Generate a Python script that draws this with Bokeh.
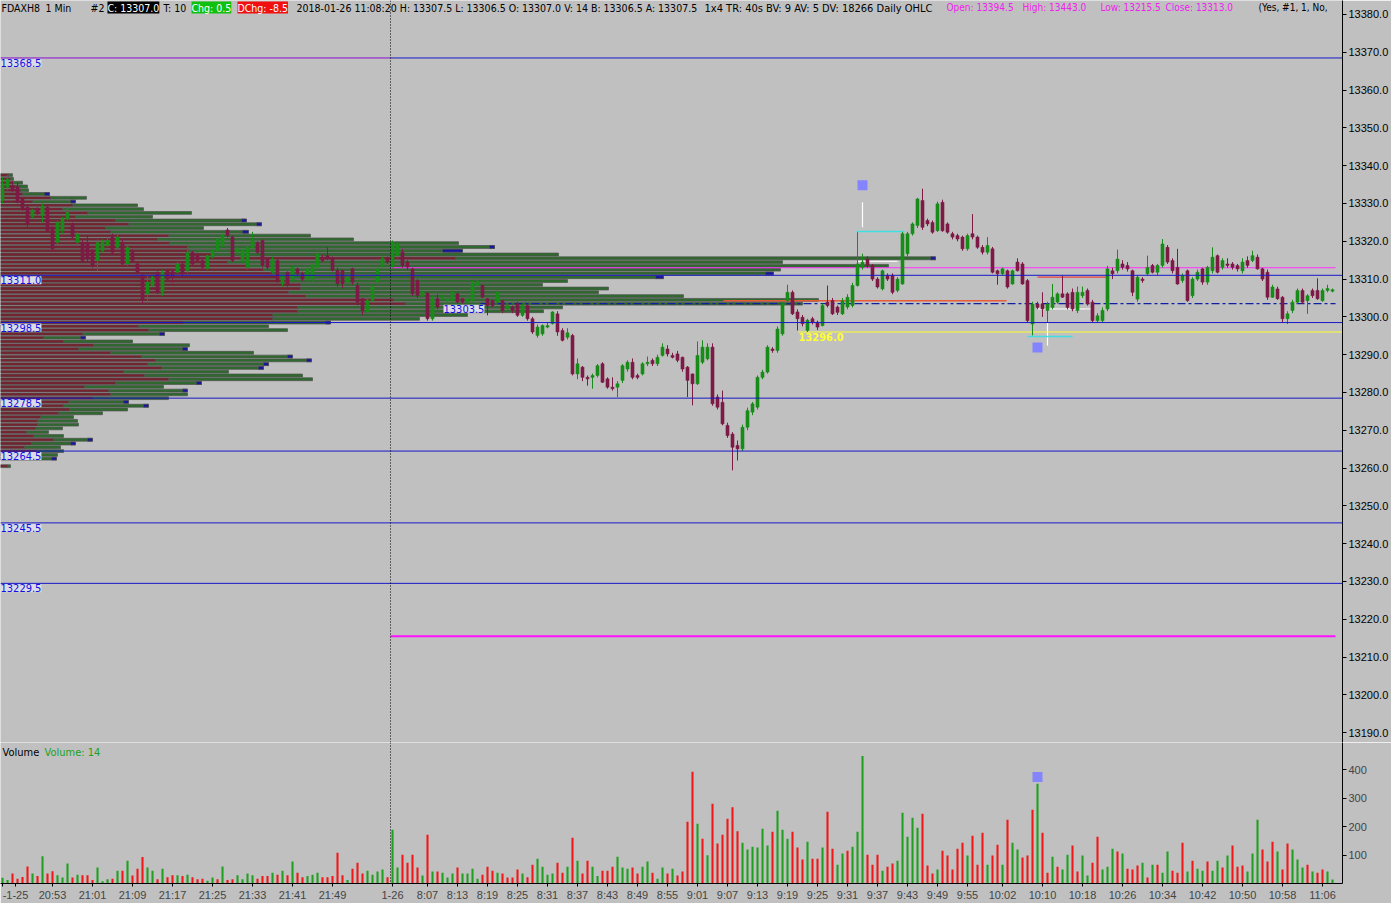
from bokeh.plotting import figure
from bokeh.models import Range1d, FixedTicker, PrintfTickFormatter, Label, Span, ColumnDataSource
from bokeh.layouts import column
from bokeh.embed import file_html
from bokeh.resources import INLINE

FONT = "Liberation Sans Narrow, DejaVu Sans Condensed, sans-serif"
AXFONT = "Liberation Sans, Arial, sans-serif"
BG = "#C0C0C0"

# ---------------- data ----------------
opens = [13330.8,13334.3,13334.7,13334.5,13331.2,13329,13326.5,13328.6,13326.8,13329,
 13323.7,13319.7,13322.8,13325.9,13324.6,13319.7,13319.7,13319.7,13317.5,13314.9,
 13317.5,13318.9,13321.1,13318.4,13319.7,13314,13317.1,13314,13310.9,13306.1,
 13308.3,13311.8,13306.5,13312.2,13312,13311.8,13314,13312.2,13317.1,13316.2,
 13314.9,13312.7,13315.8,13317.5,13318.9,13323,13321.1,13317.1,13314.9,13313.1,
 13318.4,13319.7,13320.2,13315.3,13311.8,13314.9,13308.7,13311.8,13310,13312.7,
 13311.4,13310,13310,13313.1,13315.8,13316.2,13315.4,13312.3,13312.3,13309.2,
 13312.7,13308.3,13304.8,13301.3,13304.4,13309.2,13313.6,13315.4,
 13313.6,13316.2,13317.1,13314.5,13312.7,13309.6,13305.7,13306.3,13299.5,13304.8,
 13304.9,13304.2,13304.3,13306.1,13304.8,13303.9,13304.3,13308.3,13308.3,13304.8,
 13304.3,13303.9,13304.3,13302.1,13302.6,13303.5,13300.4,13303,13299.5,13295.1,
 13295.5,13297.3,13298.2,13300.8,13296.4,13294.6,13295.1,13284.9,13286.7,13284,
 13284,13284.5,13287.6,13283.6,13281.4,13281.4,13283.2,13286.2,13288,13284.5,
 13284.9,13287.6,13288.5,13287.6,13289.8,13291.5,13289.8,13290.2,13289.3,13286.7,
 13284.9,13282.3,13288,13288.9,13292,13278.8,13277.4,13271.3,13269,13266,
 13265.1,13270.8,13274.8,13276.1,13284,13285.4,13291.5,13291.1,13295.5,13304.3,
 13306.5,13301.3,13299.9,13296.4,13299.5,13298.6,13297.7,13303.9,13304.3,13302.6,
 13300.8,13302.6,13303,13308.3,13313.1,13315.3,13313.6,13310,13307.4,13311,
 13311,13307,13308.7,13316.7,13322,13324.2,13330.8,13325.5,13325,13322.8,
 13330.3,13324.6,13322,13321.5,13321.1,13318,13322,13321.1,13318.4,13317.1,
 13318,13312.2,13311.4,13312.2,13308.7,13314.5,13314,13309.6,13298.1,13303.4,
 13303.4,13301.7,13302.5,13303.9,13306.1,13306.1,13306.5,13301.7,13305.6,13307,
 13303.9,13299,13299,13302.1,13312.2,13312.2,13314,13313.6,13312.2,13304.7,
 13310,13311.4,13313.6,13311.8,13313.6,13318.4,13314.9,13313.1,13309.6,13312.2,
 13305.6,13310,13312.7,13309.2,13312.2,13316.2,13313.1,13314,13314,13313.6,
 13312.2,13314.9,13314.9,13315.8,13312.7,13311.8,13305.2,13307.4,13305.2,13299.5,
 13301.7,13303.9,13307,13304.3,13307,13307,13304.3,13307,13307]
highs = [13337,13337.5,13336,13335.5,13331.5,13329.5,13328.5,13329,13330,13329.5,
 13324,13325.5,13326.5,13329,13325,13322.5,13320.5,13321.5,13318,13320.5,
 13320.5,13321,13322,13322,13320.5,13319,13318,13314.5,13311.5,13311,
 13311,13312,13312.5,13312.5,13312.5,13314.5,13314.5,13318.5,13317.5,13317,
 13315.5,13316.5,13318,13321,13322,13323.5,13321.5,13318.5,13318,13319,
 13322.5,13320,13320.5,13315.5,13316,13315.5,13311,13312,13313.5,13313,
 13312,13313,13314,13317.5,13316.5,13318.4,13316,13313,13312.5,13311,
 13313,13309,13305,13305,13308.5,13313,13316,13316,
 13320.2,13320,13318,13315,13313,13310,13307,13306.5,13305.5,13306,
 13306,13305,13307,13306.5,13305,13305.5,13309.5,13310,13308.5,13305,
 13304.5,13307,13304.5,13303.5,13303,13304,13303.5,13303.5,13300,13298,
 13298,13298.5,13301.5,13301.5,13297,13297,13295.5,13289,13287,13284.5,
 13285,13287.5,13288,13284,13284,13283,13287.5,13288.5,13289,13285,
 13288,13289.5,13289,13290,13293,13292.5,13290.5,13291,13289.5,13287,
 13285,13293.5,13293.8,13293,13293,13279.5,13280.5,13272,13269.5,13267.3,
 13271.5,13276,13277.5,13284.5,13286,13292.5,13292,13297.5,13304,13308.5,
 13307,13302,13300.5,13299.5,13300,13299,13303.5,13308.3,13305,13303,
 13305,13306,13309,13322.4,13316.7,13316,13314,13310.5,13312.5,13311.5,
 13311.5,13310.5,13322.5,13322.5,13325,13331.5,13333.9,13326,13325.5,13330.5,
 13331,13325,13322.5,13322,13321.5,13322,13327.2,13321.5,13319,13321.1,
 13318.5,13312.5,13313,13312.5,13312.5,13315.5,13314.5,13310,13304,13304,
 13306.5,13304,13308.7,13306.5,13310.9,13306.5,13307.5,13308,13308,13307.5,
 13304.5,13301,13302.5,13313.5,13313,13317.8,13315,13314.5,13312.5,13311,
 13310.5,13316.2,13314,13314,13320.6,13319,13315.5,13318,13311.5,13312.5,
 13310.5,13312.5,13313,13313.5,13318.4,13316.5,13315.5,13315.5,13314.5,13314,
 13315.5,13316,13317.5,13316.5,13313,13312.5,13308.5,13308,13305.5,13301.5,
 13304.5,13307.5,13307.5,13306,13307.5,13310.2,13307.5,13308.5,13307.5]
lows = [13330,13333.5,13333,13330,13328,13323.5,13326,13327,13325,13322.5,
 13317.5,13319,13322,13325.5,13320.5,13319,13314.5,13314.5,13313,13312.2,
 13317,13318.5,13316.5,13318,13313.5,13313.5,13314.5,13311.5,13303.5,13304,
 13308,13306,13305.5,13309.5,13309,13311.5,13310.5,13311.5,13313.5,13314.5,
 13312.5,13312.5,13315.5,13317,13318.5,13321,13314.5,13316.5,13314.5,13312.5,
 13318,13316.5,13313,13312.5,13311.5,13309,13308,13308,13309.5,13311,
 13309.5,13309.5,13309.5,13312.5,13314.5,13315,13312,13308,13307.5,13309,
 13308.5,13303,13300.5,13301,13304,13308.5,13313,13314,
 13313,13315.5,13313,13312.5,13305.5,13305,13305.5,13299,13299,13302,
 13304.5,13303.5,13304,13303.5,13303.5,13303.5,13304,13308,13305,13300.4,
 13302.5,13303.5,13301,13301.5,13301,13300,13300,13299,13295.5,13294.5,
 13295,13297,13298,13295,13293.5,13294,13284.5,13283.5,13283,13281.8,
 13281,13284,13282.5,13281,13280.5,13278.8,13282.5,13285.5,13283.5,13283.5,
 13284.5,13287,13287,13287,13289.5,13289.5,13289,13288,13285.5,13278.8,
 13276.6,13282,13287.5,13288.5,13276.5,13275.5,13271.3,13268,13259.4,13262,
 13264.5,13270,13274,13275.5,13283.5,13285,13290.5,13290.5,13295,13304,
 13300.5,13296.4,13297.5,13296,13298,13296.5,13297.5,13302.5,13300.5,13300.5,
 13300.5,13302,13302.5,13308,13312.5,13313,13309.5,13307.5,13307,13309.5,
 13306,13306.5,13308.5,13316,13321.5,13323.5,13323,13324,13322,13322.5,
 13322.5,13322,13320.5,13320,13317.5,13317.5,13320.5,13318,13316.5,13316.5,
 13311.5,13308.5,13311,13307.5,13308.5,13312,13308.5,13298.5,13295.1,13302,
 13300,13298.5,13302,13303.5,13305,13302,13301.5,13301,13305,13303,
 13298.5,13298.5,13298.5,13301.5,13310,13311.5,13312.5,13312,13305.5,13304,
 13309,13311,13311.5,13311,13313,13314,13311.5,13308.5,13309,13304,
 13305,13309.5,13308.5,13308.5,13311.5,13311.5,13312.5,13313,13312.5,13312,
 13311.5,13313,13314.5,13312.5,13309.5,13304.5,13305,13304.5,13298.6,13298.1,
 13301,13303.5,13303.5,13300.8,13305,13304.5,13304,13306.5,13306.5]
closes = [13335.2,13336.5,13333.4,13330.3,13328.6,13324.6,13328.1,13327.2,13329.4,13322.8,
 13318,13325,13325.9,13327.7,13321.1,13321.9,13314.9,13315.3,13313.6,13319.7,
 13319.7,13320.2,13317.1,13321.1,13314,13318.4,13314.9,13311.8,13304.7,13309.2,
 13310.5,13306.5,13311.8,13310,13310.5,13314,13311.4,13317.1,13314,13314.9,
 13313.1,13316.2,13317.5,13320.6,13321.5,13321.5,13314.9,13318,13317.5,13318.4,
 13320.2,13317.1,13313.6,13313.1,13315.3,13309.6,13310.5,13308.7,13313.1,13311.4,
 13310,13312.7,13313.6,13316.7,13314.9,13315.3,13312.3,13308.8,13308.8,13310.5,
 13309.2,13303.9,13301.7,13304.4,13307.9,13312.7,13315.4,13314.5,
 13319.8,13319.3,13313.6,13313.2,13306.1,13305.7,13306.5,13299.5,13304.8,13302.6,
 13305.3,13304.8,13306.5,13303.9,13303.9,13304.8,13308.7,13309.2,13305.2,13303,
 13303,13306.5,13301.7,13303,13301.7,13300.4,13303,13299.5,13296,13297.3,
 13297.7,13297.7,13301.3,13296,13293.8,13295.8,13284.9,13287.6,13284,13283.6,
 13284.5,13287.1,13282.7,13281.4,13281,13282.3,13287.1,13288,13284,13284,
 13287.6,13288,13287.6,13289.3,13292,13290.2,13289.3,13288.5,13286.2,13283.2,
 13282.3,13289.8,13292,13292,13277,13276.1,13271.7,13268.6,13265.5,13265.1,
 13270.8,13275.2,13277,13284,13285.4,13292,13291.1,13296.8,13303.5,13306.5,
 13300.8,13299.5,13298.2,13299.1,13298.6,13297.3,13303,13303,13300.8,13301.2,
 13304.3,13305.2,13308.3,13314,13314.5,13313.6,13310,13307.9,13312.2,13310,
 13306.5,13310,13322,13322,13324.6,13331.2,13323.7,13324.6,13322.4,13329.9,
 13322.8,13322.4,13321.1,13320.6,13318,13321.5,13321.1,13318.4,13317.1,13318.9,
 13311.8,13311.4,13312.7,13307.9,13312.2,13312.2,13308.7,13299,13303.4,13302.5,
 13302.1,13303.4,13305.2,13306.1,13305.2,13302.5,13302.1,13306.5,13306.5,13303.4,
 13299,13300.3,13301.7,13312.7,13311.4,13315.3,13313.1,13312.7,13306.5,13310.5,
 13309.6,13313.1,13311.8,13313.6,13319.3,13314.5,13312.2,13308.7,13310.9,13304.3,
 13310,13311.8,13309.2,13313.1,13315.8,13311.8,13314.9,13313.6,13313.1,13312.7,
 13314.5,13313.6,13316.2,13312.7,13310,13305.2,13307.9,13304.8,13299.5,13300.8,
 13303.9,13307,13303.9,13305.6,13305.6,13304.8,13307,13307.5,13307]

volumes = [20,12,35,17,23,60,35,26,96,35, 43,29,21,70,21,31,29,29,12,56,
 8,15,17,45,45,80,28,52,93,56, 45,15,52,22,29,29,26,31,22,15,
 17,10,21,15,60,12,15,29,15,35, 29,17,26,26,38,31,45,29,77,38,
 22,26,31,38,22,22,26,108,29,12, 52,73,35,45,31,42,49,22,189,56,
 101,73,101,56,28,171,42,42,38,21, 35,56,35,35,52,17,31,59,45,38,
 35,21,21,49,35,22,66,87,59,31, 35,73,38,59,161,80,35,80,59,26,
 45,45,59,94,56,52,56,35,59,77, 38,17,56,35,52,28,42,217,392,210,
 157,99,280,140,171,227,268,183,143,119, 129,126,192,133,182,255,189,157,182,126,
 84,147,87,87,126,252,122,66,105,115, 129,182,448,101,66,101,45,59,70,80,
 248,164,231,196,245,63,35,49,115,98, 49,122,143,98,168,66,178,66,98,136,
 66,224,143,119,91,98,259,350,178,38, 94,59,49,101,133,42,98,28,73,164,
 49,59,122,112,105,52,49,63,73,21, 66,66,38,112,45,38,143,42,80,52,
 45,77,45,80,56,98,133,59,63,42, 105,224,119,77,147,112,49,140,119,84,
 56,66,42,38,49,42,14]
vol_up = [1,1,0,0,0,0,1,0,1,0, 0,1,1,1,0,1,0,0,0,1, 1,1,0,1,0,1,0,0,0,1,
 1,0,1,0,0,1,0,1,0,0, 0,1,1,0,1,0,0,1,1,1, 1,0,0,0,1,0,1,0,1,0,
 0,1,1,1,0,0,0,0,0,1, 0,0,0,1,1,1,1,0,1,1, 0,0,0,0,1,0,1,0,1,1,
 1,0,1,1,1,1,0,0,0,1, 0,0,0,0,1,0,0,1,1,1, 1,0,0,1,0,1,0,0,1,1,
 0,0,0,1,1,1,0,0,1,1, 0,1,1,0,1,0,0,0,0,1, 0,1,0,0,0,0,0,0,1,1,
 1,1,1,1,0,1,1,1,0,0, 0,1,0,0,1,0,0,1,1,0, 1,1,1,0,0,0,1,0,0,1,
 1,1,1,1,0,0,0,1,0,0, 0,0,0,1,0,0,0,1,0,0, 1,0,1,1,0,0,0,1,0,0,
 1,0,1,1,0,0,1,1,0,0, 1,1,1,0,1,0,0,0,1,0, 1,0,1,1,0,0,0,1,0,1,
 1,0,1,1,0,1,0,0,0,1, 1,1,0,0,0,1,0,0,1,1, 1,0,1,0,0,1,1]

# volume-at-price profile (left side): price rows and lengths in profile units
prof_price = [13337.5,13336.5,13335.5,13334.5,13333.5,13332.5,13331.5,13330.5,13329.5,13328.5,
 13327.5,13326.5,13325.5,13324.5,13323.5,13322.5,13321.5,13320.5,13319.5,13318.5,
 13317.5,13316.5,13315.5,13314.5,13313.5,13312.5,13311.5,13310.5,13309.5,13308.5,
 13307.5,13306.5,13305.5,13304.5,13303.5,13302.5,13301.5,13300.5,13299.5,13298.5,
 13297.5,13296.5,13295.5,13294.5,13293.5,13292.5,13291.5,13290.5,13289.5,13288.5,
 13287.5,13286.5,13285.5,13284.5,13283.5,13282.5,13281.5,13280.5,13279.5,13278.5,
 13277.5,13276.5,13275.5,13274.5,13273.5,13272.5,13271.5,13270.5,13269.5,13268.5,
 13267.5,13266.5,13265.5,13264.5,13263.5,13262.5,13260.5]
prof_sell = [8,10,12,15,20,22,50,32,72,62, 87,75,115,128,105,110,168,157,169,187,
 188,213,455,227,248,263,272,277,285,300, 300,288,305,393,405,297,297,272,272,183,
 138,148,82,43,63,93,78,110,141,155, 147,161,123,144,168,115,84,108,110,92,
 68,63,69,58,40,37,37,35,26,33, 53,31,24,36,30,30,7]
prof_total = [12,13,22,27,28,49,86,75,137,143, 191,152,246,261,203,248,310,353,458,494,
 462,558,935,782,888,780,773,663,567,542, 608,598,683,818,802,562,543,467,419,330,
 268,287,164,85,132,189,187,253,292,311, 268,263,228,302,312,201,163,187,187,168,
 128,148,127,102,73,77,78,62,48,63, 92,75,60,63,57,56,10]
prof_tip = [0,0,0,0,0,5,0,5,0,0, 0,0,5,5,0,6,0,0,0,5, 20,0,5,0,0,0,8,8,0,0,
 0,0,0,0,0,0,0,0,0,5, 0,0,5,5,0,0,5,0,5,5, 5,5,0,0,0,5,0,5,0,0,
 5,5,0,0,0,0,0,0,0,0, 5,5,0,0,0,5,0]

levels = [13311.0, 13298.5, 13278.5, 13264.5, 13245.5, 13229.5]
level_top = 13368.5
prior_close = 13313.0
daily_low = 13215.5
yellow_level = 13296.0
poc_level = 13303.5

price_ticks = [13190,13200,13210,13220,13230,13240,13250,13260,13270,13280,
               13290,13300,13310,13320,13330,13340,13350,13360,13370,13380]
vol_ticks = [100, 200, 300, 400]
time_ticks = [0,2.6,10,18,26,34,42,50,58,66,78,85,91,97,103,109,115,121,127,133,139,
              145,151,157,163,169,175,181,187,193,200,208,216,224,232,240,248,256,264]
time_labels = ["","-1-25","20:53","21:01","21:09","21:17","21:25","21:33","21:41","21:49","1-26",
               "8:07","8:13","8:19","8:25","8:31","8:37","8:43","8:49","8:55","9:01",
               "9:07","9:13","9:19","9:25","9:31","9:37","9:43","9:49","9:55","10:02",
               "10:10","10:18","10:26","10:34","10:42","10:50","10:58","11:06"]
session_break = 77.6

# ---------------- price panel ----------------
XR = Range1d(-0.4, 268)
PSCALE = 0.2   # profile units -> bar units

p1 = figure(frame_width=1342, frame_height=742, x_range=XR, y_range=Range1d(13187.4, 13383.7),
            output_backend="svg", toolbar_location=None, x_axis_location=None,
            y_axis_location="right", min_border_left=0, min_border_right=49,
            min_border_top=0, min_border_bottom=0, background_fill_color=BG,
            border_fill_color=BG, outline_line_color=None)
p1.grid.visible = False
ay = p1.yaxis[0]
ay.ticker = FixedTicker(ticks=price_ticks)
ay.formatter = PrintfTickFormatter(format="%.1f")
ay.major_label_text_font = AXFONT
ay.major_label_text_font_size = "11px"
ay.major_label_text_color = "black"
ay.axis_line_color = "black"
ay.major_tick_line_color = "black"
ay.major_tick_out = 4
ay.major_tick_in = 0
ay.minor_tick_line_color = None
ay.major_label_standoff = 2

# profile
x0 = -0.4
left_s = [x0] * len(prof_price)
sell_r = [x0 + s * PSCALE for s in prof_sell]
tot_r = [x0 + t * PSCALE for t in prof_total]
tip_l = [x0 + (t - k) * PSCALE for t, k in zip(prof_total, prof_tip)]
bot = [p - 0.38 for p in prof_price]
top = [p + 0.38 for p in prof_price]
p1.quad(left=sell_r, right=tot_r, bottom=bot, top=top, fill_color="#2E6A2E",
        line_color="#505050", line_width=0.7)
p1.quad(left=left_s, right=sell_r, bottom=bot, top=top, fill_color="#74232F",
        line_color="#505050", line_width=0.7)
tsel = [i for i, k in enumerate(prof_tip) if k > 0]
p1.quad(left=[tip_l[i] for i in tsel], right=[tot_r[i] for i in tsel],
        bottom=[bot[i] for i in tsel], top=[top[i] for i in tsel],
        fill_color="#1414A0", line_color="#505050", line_width=0.7)

# level lines
for lv in levels:
    p1.add_layout(Span(location=lv, dimension="width", line_color="#1818C8", line_width=1))
p1.segment(x0=[-0.4, session_break], y0=[level_top]*2, x1=[session_break, 268], y1=[level_top]*2,
           line_color=["#8A10D0", "#1818C8"], line_width=1)
p1.segment(x0=[session_break], y0=[prior_close], x1=[266.6], y1=[prior_close],
           line_color="#FF30FF", line_width=1)
p1.segment(x0=[session_break], y0=[daily_low], x1=[266.6], y1=[daily_low],
           line_color="#FF10FF", line_width=2)
p1.segment(x0=[159.2], y0=[yellow_level], x1=[268], y1=[yellow_level],
           line_color="#FFFF30", line_width=1)
p1.segment(x0=[95.6], y0=[poc_level], x1=[266.6], y1=[poc_level],
           line_color="#1020A0", line_width=1.3, line_dash="8 3 3 3")
p1.segment(x0=[144.2], y0=[13304.3], x1=[200.8], y1=[13304.3],
           line_color="#E85A3A", line_width=1.5)
p1.add_layout(Span(location=session_break, dimension="height", line_color="black",
                   line_width=1, line_dash="1 2"))

# markers
p1.segment(x0=[172, 209], y0=[13323.7, 13292.4], x1=[172, 209], y1=[13330.3, 13299.0],
           line_color="white", line_width=1.2)
p1.segment(x0=[170.8, 205.0], y0=[13322.6, 13294.8], x1=[180.4, 214.0], y1=[13322.6, 13294.8],
           line_color="#40E0E0", line_width=1.5)
p1.segment(x0=[171.0, 207.0], y0=[13314.7, 13302.1], x1=[179.0, 218.0], y1=[13314.7, 13302.1],
           line_color="white", line_width=1)
p1.segment(x0=[207.0], y0=[13310.5], x1=[221.0], y1=[13310.5], line_color="#E84040", line_width=1.3)

# candles
n = len(opens)
idx = list(range(n))
ccol = ["#188C18" if c >= o else "#7E1A46" for o, c in zip(opens, closes)]
btop = [max(o, c) if abs(c - o) >= 0.3 else max(o, c) + 0.2 for o, c in zip(opens, closes)]
bbot = [min(o, c) if abs(c - o) >= 0.3 else min(o, c) - 0.2 for o, c in zip(opens, closes)]
src = ColumnDataSource(dict(x=idx, o=opens, h=highs, l=lows, c=closes, col=ccol, t=btop, b=bbot))
p1.segment(x0="x", y0="l", x1="x", y1="h", line_color="col", line_width=1, source=src)
p1.vbar(x="x", top="t", bottom="b", width=0.62, fill_color="col", line_color="col",
        line_width=0.5, source=src)

p1.scatter(x=[172, 207], y=[13334.8, 13291.9], marker="square", size=10,
           fill_color="#8484FF", line_color=None)

# level labels
for lv in [level_top] + levels:
    p1.add_layout(Label(x=-0.4, y=lv, text=f"{lv:.1f}", text_font=FONT, text_font_size="11px",
                        text_color="#1010E0", text_baseline="top", text_align="left",
                        background_fill_color="#DCDCE8", y_offset=-1))
p1.add_layout(Label(x=88.2, y=poc_level, text=f"{poc_level:.1f}", text_font=FONT,
                    text_font_size="11px", text_color="#1010E0", text_baseline="top",
                    background_fill_color="#DCDCE8", y_offset=-1))
p1.add_layout(Label(x=159.2, y=yellow_level, text=f"{yellow_level:.1f}", text_font=FONT,
                    text_font_size="11px", text_color="#FFFF30", text_font_style="bold",
                    text_baseline="top", y_offset=-1))

# header
hdr = [
    (1, "FDAXH8", "black", None, "10.5px"),
    (45, "1 Min", "black", None, "10.5px"),
    (90, "#2", "black", None, "10.5px"),
    (107, "C: 13307.0", "white", "black", "10.5px"),
    (163, "T: 10", "black", None, "10.5px"),
    (191, "Chg: 0.5", "white", "#10C010", "10.5px"),
    (237, "DChg: -8.5", "white", "#F01010", "10.5px"),
    (296, "2018-01-26 11:08:20 H: 13307.5 L: 13306.5 O: 13307.0 V: 14 B: 13306.5 A: 13307.5",
     "black", None, "10.5px"),
    (704, "1x4 TR: 40s BV: 9 AV: 5 DV: 18266 Daily OHLC", "black", None, "11px"),
    (946, "Open: 13394.5", "#F020F0", None, "10px"),
    (1022, "High: 13443.0", "#F020F0", None, "10px"),
    (1100, "Low: 13215.5", "#F020F0", None, "10px"),
    (1165, "Close: 13313.0", "#F020F0", None, "10px"),
    (1258, "(Yes, #1, 1, No,", "black", None, "10px"),
]
for hx, ht, hc, hb, hs in hdr:
    kw = dict(background_fill_color=hb) if hb else {}
    p1.add_layout(Label(x=hx, y=741, x_units="screen", y_units="screen", text=ht,
                        text_font=FONT, text_font_size=hs, text_color=hc,
                        text_baseline="top", **kw))

# ---------------- volume panel ----------------
p2 = figure(frame_width=1342, frame_height=141, x_range=XR, y_range=Range1d(0, 495),
            output_backend="svg", toolbar_location=None, y_axis_location="right",
            min_border_left=0, min_border_right=49, min_border_top=0, min_border_bottom=18,
            background_fill_color=BG, border_fill_color=BG, outline_line_color=None)
p2.grid.visible = False
vcol = ["#20A020" if u else "#F01818" for u in vol_up]
p2.vbar(x=idx, top=volumes, bottom=0, width=0.42, fill_color=vcol, line_color=None)
p2.add_layout(Span(location=session_break, dimension="height", line_color="black",
                   line_width=1, line_dash="1 2"))
p2.scatter(x=[207], y=[374], marker="square", size=10, fill_color="#8484FF", line_color=None)
vy = p2.yaxis[0]
vy.ticker = FixedTicker(ticks=vol_ticks)
vy.major_label_text_font = AXFONT
vy.major_label_text_font_size = "11px"
vy.axis_line_color = "black"
vy.major_tick_out = 4
vy.major_tick_in = 0
vy.minor_tick_line_color = None
vy.major_label_standoff = 2
vx = p2.xaxis[0]
vx.ticker = FixedTicker(ticks=time_ticks)
vx.major_label_overrides = {t: l for t, l in zip(time_ticks, time_labels)}
vx.major_label_text_font = AXFONT
vx.major_label_text_font_size = "11px"
vx.axis_line_color = "black"
vx.major_tick_out = 3
vx.major_tick_in = 0
vx.minor_tick_line_color = None
vx.major_label_standoff = 2

p2.add_layout(Label(x=2, y=138, x_units="screen", y_units="screen", text="Volume",
                    text_font=FONT, text_font_size="11px", text_color="black",
                    text_baseline="top"))
p2.add_layout(Label(x=44, y=138, x_units="screen", y_units="screen", text="Volume: 14",
                    text_font=FONT, text_font_size="11px", text_color="#20A020",
                    text_baseline="top"))

layout = column(p1, p2, spacing=0)
open("out.html", "w").write(file_html(layout, INLINE))
